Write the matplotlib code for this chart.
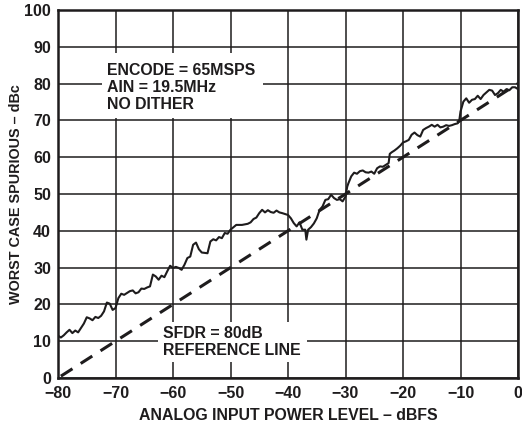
import numpy as np
import matplotlib.pyplot as plt

# worst case spurious vs input level
power_dbfs = [-80, -79.5, -79, -78.5, -78, -77.5, -77, -76.5, -76, -75.5, -75, -74.5, -74,
              -73.5, -73, -72.5, -72, -71.5, -71, -70.5, -70,
              -69.5, -69, -68.5, -68, -67.5, -67, -66.5, -66, -65.5, -65, -64.5, -64,
              -63.5, -63, -62.5, -62, -61.5,
              -61, -60.5, -60, -59.5, -59, -58.5, -58, -57.5, -57, -56.5, -56, -55.5, -55,
              -54, -53.5, -53, -52.5, -52, -51.5, -51, -50.5, -50, -49, -48, -47, -46.5,
              -46, -45.5, -45, -44.5, -44,
              -43.5, -43, -42.5, -42, -41.5, -41, -40, -39.5, -39, -38.5, -38, -37.5, -37,
              -36.8, -36.5,
              -36, -35.5, -35, -34.5, -34, -33.5, -33, -32.5, -32, -31.5, -31, -30.5, -30,
              -29.7, -29.5, -29, -28.5, -28, -27.5, -27, -26.5, -26, -25.5, -25, -24.5, -24,
              -23.5, -23,
              -22.5, -22.3, -22, -21.5, -21, -20.5, -20, -19.5, -19, -18.5, -18, -17.5, -17,
              -16.5, -16,
              -15.5, -15, -14.5, -14, -13.5, -13, -12.5, -12, -11.5, -11, -10.5, -10.2, -10,
              -9.5, -9, -8.5, -8,
              -7.5, -7, -6.5, -6, -5.5, -5, -4.5, -4, -3.5, -3, -2.5, -2, -1.5, -1, -0.5, 0]
spurious_dbc = [11.5, 11.0, 11.6, 12.4, 13.1, 12.2, 12.9, 12.4, 13.6, 14.8, 16.5, 16.2, 15.7,
                16.6, 16.3, 16.9, 18.1, 20.5, 20.2, 18.5, 19.0,
                21.7, 22.9, 22.6, 23.1, 23.6, 23.8, 23.0, 23.3, 24.3, 24.2, 24.6, 24.9,
                28.1, 27.6, 26.7, 27.8, 27.4,
                29.0, 30.5, 29.9, 30.2, 29.9, 29.4, 30.8, 32.6, 33.0, 36.2, 36.8, 35.0, 34.1,
                33.9, 37.1, 37.7, 37.4, 38.3, 38.0, 39.4, 39.2, 40.3, 41.6, 41.6, 41.9, 42.3,
                43.2, 43.6, 44.8, 45.7, 45.0,
                45.6, 45.1, 44.9, 45.5, 45.0, 44.8, 44.3, 43.4, 42.1, 41.2, 42.3, 40.3, 40.3,
                37.6, 40.3,
                41.0, 42.0, 43.4, 45.7, 46.6, 48.4, 48.6, 49.8, 48.9, 48.4, 48.6, 48.0, 49.3,
                52.0, 52.9, 54.8, 55.8, 55.5, 56.2, 56.4, 55.9, 55.8, 56.1, 55.5, 57.0, 57.5,
                57.4, 57.9,
                58.4, 60.9, 61.3, 61.8, 62.4, 63.1, 64.0, 64.3, 64.7, 66.1, 66.7, 66.0, 65.6,
                67.4, 67.9,
                68.3, 68.8, 68.3, 68.8, 68.1, 68.3, 68.7, 68.5, 68.7, 69.0, 69.2, 70.1, 72.4,
                75.1, 76.0, 74.8, 75.6,
                75.8, 76.7, 75.8, 76.9, 77.6, 78.3, 78.1, 76.9, 77.4, 78.3, 77.8, 78.5, 78.2,
                79.0, 79.0, 78.5]

# SFDR = 80dB reference line
ref_x = [-79.5, 0]
ref_y = [0.5, 80]

x_ticks = [-80, -70, -60, -50, -40, -30, -20, -10, 0]
x_labels = ['\u221280', '\u221270', '\u221260', '\u221250', '\u221240',
            '\u221230', '\u221220', '\u221210', '0']
y_ticks = [0, 10, 20, 30, 40, 50, 60, 70, 80, 90, 100]

ink = '#1e1c1d'
plt.rcParams['font.family'] = ['Liberation Sans', 'DejaVu Sans']
plt.rcParams['font.weight'] = 'bold'

fig = plt.figure(figsize=(5.22, 4.25), dpi=100)
ax = fig.add_axes([58 / 522, 1 - 378 / 425, 460 / 522, 368 / 425])

ax.plot(power_dbfs, spurious_dbc, color=ink, lw=1.5, zorder=4)
ax.plot(ref_x, ref_y, color=ink, lw=2.2, dashes=(4.5, 3.2), zorder=4)

ax.set_xlim(-80, 0)
ax.set_ylim(0, 100)
ax.set_xticks(x_ticks)
ax.set_xticklabels(x_labels)
ax.set_yticks(y_ticks)
ax.grid(True, color=ink, lw=1.1)
ax.set_axisbelow(True)
ax.tick_params(length=0, labelsize=11.5, colors=ink)
ax.tick_params(axis='y', pad=5)
ax.tick_params(axis='x', pad=6)
for s in ax.spines.values():
    s.set_linewidth(1.8)
    s.set_color(ink)

# white boxes cut through the grid behind the notes
ax.fill_between([-72.3, -44.3], 70.7, 88.3, color='white', zorder=2, lw=0)
ax.fill_between([-62.6, -36.7], 4.3, 15.2, color='white', zorder=2, lw=0)

ax.text(-71.5, 79.0, 'ENCODE = 65MSPS\nAIN = 19.5MHz\nNO DITHER', fontsize=11.4,
        fontweight='bold', color=ink, va='center', ha='left', linespacing=1.17, zorder=5)
ax.text(-61.7, 9.8, 'SFDR = 80dB\nREFERENCE LINE', fontsize=11.4,
        fontweight='bold', color=ink, va='center', ha='left', linespacing=1.17, zorder=5)

ax.set_xlabel('ANALOG INPUT POWER LEVEL \u2013 dBFS', fontsize=11.4, fontweight='bold',
              color=ink, labelpad=5)
ax.set_ylabel('WORST CASE SPURIOUS \u2013 dBc', fontsize=10.4, fontweight='bold',
              color=ink, labelpad=1)

fig.savefig('out.png', dpi=100)
